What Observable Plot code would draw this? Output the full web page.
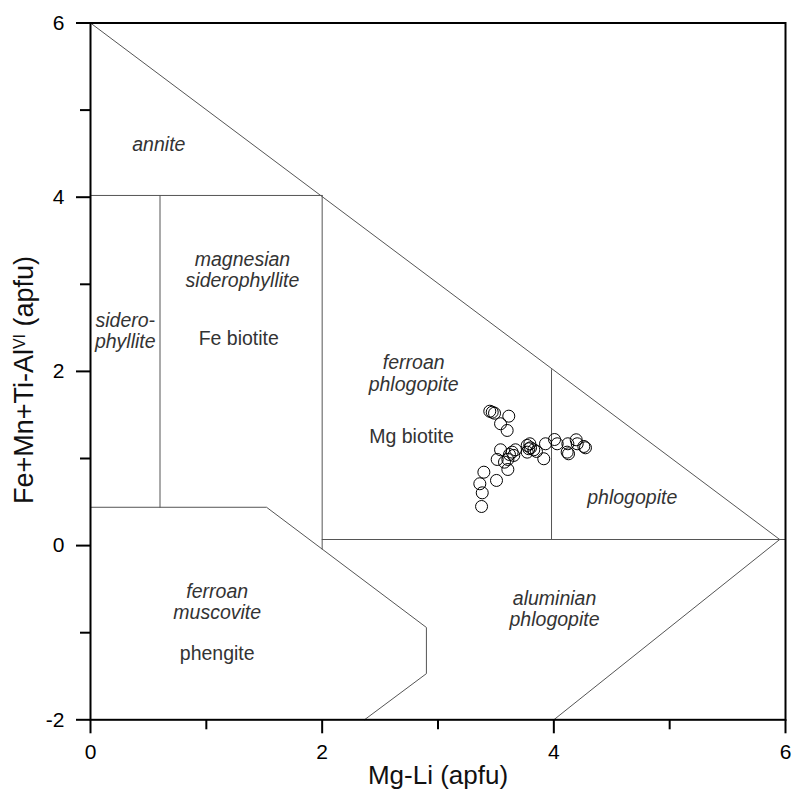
<!DOCTYPE html>
<html>
<head>
<meta charset="utf-8">
<script src="https://cdn.jsdelivr.net/npm/d3@7"></script>
<script src="https://cdn.jsdelivr.net/npm/@observablehq/plot@0.6"></script>
<style>
  html, body { margin: 0; padding: 0; background: #fff; }
  #chart { width: 792px; height: 799px; }
</style>
</head>
<body>
<div id="chart"></div>
<script>
// Mica analyses: Mg-Li vs Fe+Mn+Ti-Al(VI), in apfu
const micaMgLi = [
  3.447, 3.468, 3.488, 3.611, 3.540, 3.597, 3.540, 3.511, 3.603, 3.617,
  3.603, 3.669, 3.654, 3.770, 3.793, 3.799, 3.770, 3.827, 3.850, 3.913,
  3.928, 4.006, 4.029, 4.121, 4.115, 4.127, 4.193, 4.202, 4.259, 4.273,
  3.396, 3.361, 3.382, 3.376, 3.505, 3.640, 3.784, 3.574
];
const micaFeAl = [
  1.543, 1.532, 1.520, 1.486, 1.399, 1.322, 1.100, 0.989, 0.989, 1.046,
  0.874, 1.100, 1.035, 1.150, 1.169, 1.123, 1.073, 1.100, 1.081, 0.997,
  1.169, 1.218, 1.169, 1.169, 1.073, 1.054, 1.215, 1.169, 1.138, 1.123,
  0.843, 0.710, 0.606, 0.449, 0.748, 1.073, 1.112, 0.958
];

// Field boundaries of the classification diagram, as polylines [x, y]
const fieldBoundaries = [
  [[0, 6], [5.95, 0.07]],
  [[0, 4.02], [2, 4.02]],
  [[0.6, 4.02], [0.6, 0.44]],
  [[2, 4.02], [2, -0.04]],
  [[2, 0.07], [6, 0.07]],
  [[3.98, 0.07], [3.98, 2.02]],
  [[0, 0.44], [1.52, 0.44], [2.9, -0.94], [2.9, -1.47], [2.365, -2]],
  [[4, -2], [5.95, 0.07]]
];

// Field names (italic) and group names (upright)
const fieldNames = ["annite", "magnesian\nsiderophyllite", "sidero-\nphyllite",
  "ferroan\nphlogopite", "phlogopite", "aluminian\nphlogopite", "ferroan\nmuscovite"];
const fieldX = [0.59, 1.312, 0.30, 2.79, 4.677, 4.006, 1.094];
const fieldY = [4.614, 3.168, 2.470, 1.978, 0.556, -0.722, -0.641];

const groupNames = ["Fe biotite", "Mg biotite", "phengite"];
const groupX = [1.28, 2.771, 1.094];
const groupY = [2.375, 1.245, -1.243];

const xMajorTicks = [0, 2, 4, 6];
const xMinorTicks = [1, 3, 5];
const yMajorTicks = [-2, 0, 2, 4, 6];
const yMinorTicks = [-1, 1, 3, 5];

const points = micaMgLi.map((x, i) => ({x, y: micaFeAl[i]}));
const boundaryVertices = fieldBoundaries.flatMap((line, id) =>
  line.map(([x, y]) => ({id, x, y})));
const fields = fieldNames.map((name, i) => ({name, x: fieldX[i], y: fieldY[i]}));
const groups = groupNames.map((name, i) => ({name, x: groupX[i], y: groupY[i]}));

const font = "'Liberation Sans', Arial, Helvetica, sans-serif";
const noLabel = () => "";

const svg = Plot.plot({
  width: 792,
  height: 799,
  marginLeft: 90,
  marginRight: 7,
  marginTop: 22.5,
  marginBottom: 79.7,
  x: {domain: [0, 6]},
  y: {domain: [-2, 6]},
  style: {fontFamily: font, fontSize: "19px", color: "#000", background: "#fff"},
  marks: [
    Plot.line(boundaryVertices, {x: "x", y: "y", z: "id", stroke: "#555", strokeWidth: 1}),
    Plot.text(fields, {x: "x", y: "y", text: "name", fontStyle: "italic", fill: "#333",
      fontSize: 19.5, lineHeight: 1.1, lineAnchor: "middle"}),
    Plot.text(groups, {x: "x", y: "y", text: "name", fill: "#333", fontSize: 19.5, lineAnchor: "middle"}),
    Plot.dot(points, {x: "x", y: "y", r: 6, stroke: "#000", fill: "none", strokeWidth: 1}),
    Plot.frame({stroke: "#000", strokeWidth: 2}),
    // tick marks: long at labelled values, short in between
    Plot.axisX({ticks: xMajorTicks, tickSize: 14, tickFormat: noLabel, strokeWidth: 2, label: null}),
    Plot.axisX({ticks: xMinorTicks, tickSize: 10, tickFormat: noLabel, strokeWidth: 2, label: null}),
    Plot.axisY({ticks: yMajorTicks, tickSize: 14, tickFormat: noLabel, strokeWidth: 2, label: null}),
    Plot.axisY({ticks: yMinorTicks, tickSize: 10, tickFormat: noLabel, strokeWidth: 2, label: null}),
    // tick labels
    Plot.text(xMajorTicks, {x: d => d, text: d => String(d), frameAnchor: "bottom", dy: 39,
      fontSize: 21, fill: "#000"}),
    Plot.text(yMajorTicks, {y: d => d, text: d => String(d), frameAnchor: "left", dx: -26,
      textAnchor: "end", fontSize: 21, fill: "#000"}),
    Plot.text(["Mg-Li (apfu)"], {frameAnchor: "bottom", dy: 64, fontSize: 26, fill: "#111"})
  ]
});

// y-axis title with a superscript for the octahedral site
const yTitle = d3.select(svg).append("text")
  .attr("transform", "translate(33,380) rotate(-90)")
  .attr("text-anchor", "middle")
  .attr("fill", "#111")
  .style("font-family", font)
  .style("font-size", "27px");
yTitle.append("tspan").text("Fe+Mn+Ti-Al");
yTitle.append("tspan").attr("dy", "-8").style("font-size", "16px").text("VI");
yTitle.append("tspan").attr("dy", "8").text(" (apfu)");

document.getElementById("chart").appendChild(svg);
</script>
</body>
</html>
